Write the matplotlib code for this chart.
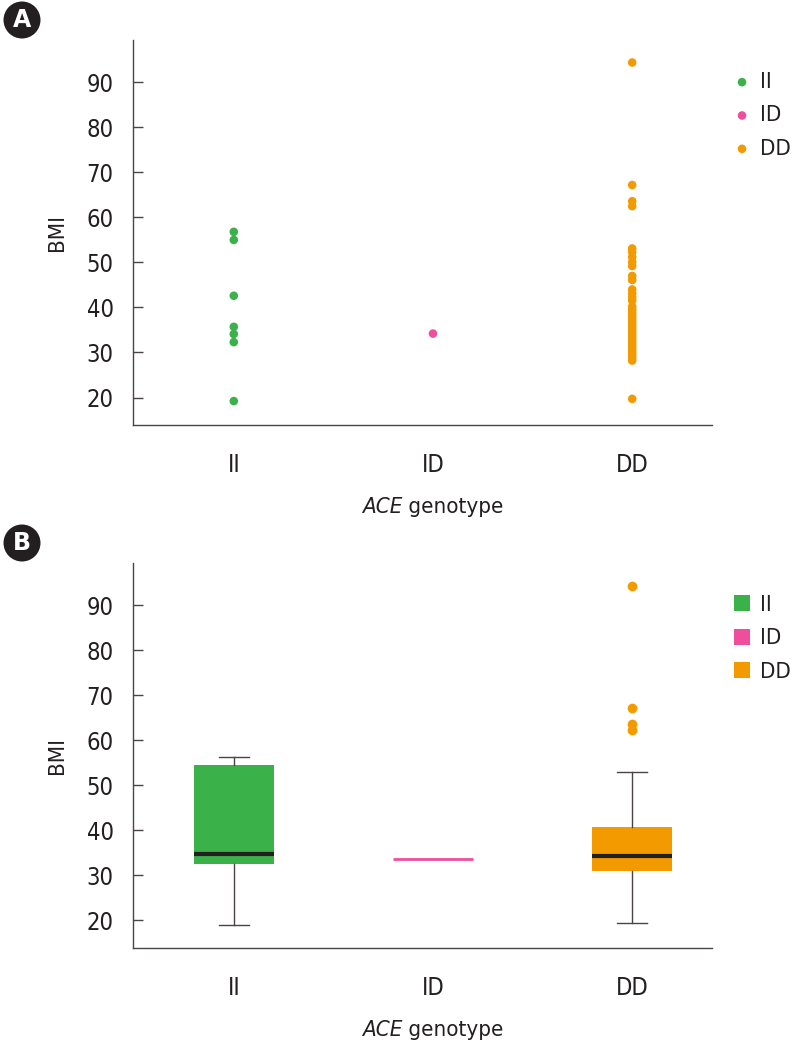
import matplotlib
matplotlib.use("Agg")
import matplotlib.pyplot as plt
from matplotlib.lines import Line2D
from matplotlib.patches import Ellipse

plt.rcParams['font.family'] = ['DejaVu Sans']
plt.rcParams['font.stretch'] = 'condensed'

# data
genotypes = ['II', 'ID', 'DD']
colors = ['#3BB14A', '#EE4E9C', '#F39A00']

bmi_ii = [56.8, 55.0, 42.6, 35.7, 34.1, 32.3, 19.2]
bmi_id = [34.2]
bmi_dd = [94.4, 67.2, 63.6, 62.5, 53.1, 52.3, 51.2, 50.1, 49.2, 47.0, 46.1,
          44.0, 43.1, 42.2, 41.5, 40.2, 39.6, 39.0, 38.4, 37.8, 37.2, 36.6,
          36.0, 35.4, 34.8, 34.2, 33.6, 33.0, 32.4, 31.8, 31.2, 30.6, 30.0,
          29.4, 28.8, 28.2, 19.7]

# box summaries
box_q1 = [32.6, 33.7, 31.1]
box_med = [34.8, 33.7, 34.3]
box_q3 = [54.6, 33.7, 40.8]
box_lo = [19.0, 33.7, 19.5]
box_hi = [56.4, 33.7, 53.0]
box_fliers = [[], [], [94.2, 67.1, 63.6, 62.3]]

yticks = [20, 30, 40, 50, 60, 70, 80, 90]
ylim = (13.9, 99.4)

txt = '#231F20'
spine = '#4A4444'

fig = plt.figure(figsize=(7.93, 10.47), dpi=100)
axA = fig.add_axes([0.1677, 0.5941, 0.730, 0.3677])
axB = fig.add_axes([0.1677, 0.0946, 0.730, 0.3677])


def style(ax):
    ax.set_xlim(0.494, 3.40)
    ax.set_ylim(*ylim)
    ax.set_yticks(yticks)
    ax.set_xticks([1, 2, 3])
    ax.set_xticklabels(genotypes)
    for s in ['top', 'right']:
        ax.spines[s].set_visible(False)
    for s in ['left', 'bottom']:
        ax.spines[s].set_color(spine)
        ax.spines[s].set_linewidth(1.0)
    ax.tick_params(axis='y', direction='in', length=7, width=1.0, color=spine,
                   labelsize=17, labelcolor=txt, pad=14)
    ax.tick_params(axis='x', length=0, labelsize=17, labelcolor=txt, pad=20)
    ax.set_ylabel('BMI', fontsize=16, color=txt, labelpad=14)
    t = ax.text(0.5 - 0.035, -0.228, 'ACE', transform=ax.transAxes,
                fontsize=16, style='italic', color=txt, ha='right',
                va='baseline')
    ax.annotate(' genotype', xy=(1, 0), xycoords=t, fontsize=16, color=txt,
                ha='left', va='bottom')


# panel A: strip of points
for i, vals in enumerate([bmi_ii, bmi_id, bmi_dd]):
    axA.scatter([i + 1] * len(vals), vals, s=38, color=colors[i],
                edgecolors='none', label=genotypes[i], zorder=3, clip_on=False)
style(axA)
axA.legend(loc='upper left', bbox_to_anchor=(1.006, 0.94), frameon=False,
           fontsize=16, handletextpad=0.0, labelspacing=0.6,
           borderaxespad=0, labelcolor=txt, handlelength=1.6)

# panel B: boxplot
stats = []
for i in range(3):
    stats.append(dict(q1=box_q1[i], med=box_med[i], q3=box_q3[i],
                      whislo=box_lo[i], whishi=box_hi[i],
                      fliers=box_fliers[i], label=genotypes[i]))
bp = axB.bxp(stats, positions=[1, 2, 3], widths=0.4, patch_artist=True,
             showcaps=True,
             boxprops=dict(linewidth=0),
             whiskerprops=dict(color=spine, linewidth=1.0),
             capprops=dict(color=spine, linewidth=1.0),
             medianprops=dict(color=txt, linewidth=3, solid_capstyle='butt'),
             flierprops=dict(marker='o', markersize=7, markeredgewidth=0,
                             markerfacecolor=colors[2]))
for i, b in enumerate(bp['boxes']):
    b.set_facecolor(colors[i])
    b.set_edgecolor(colors[i])
for c in bp['caps']:
    x = c.get_xdata()
    mid = (x[0] + x[1]) / 2
    c.set_xdata([mid - 0.075, mid + 0.075])
bp['medians'][1].set_color(colors[1])
bp['medians'][1].set_linewidth(2)
for w in bp['whiskers'][2:4]:
    w.set_visible(False)
for c in bp['caps'][2:4]:
    c.set_visible(False)
style(axB)
handles = [Line2D([], [], marker='s', linestyle='none', markersize=11,
                  markerfacecolor=c, markeredgewidth=0) for c in colors]
axB.legend(handles, genotypes, loc='upper left', bbox_to_anchor=(1.006, 0.94),
           frameon=False, fontsize=16, handletextpad=0.0, labelspacing=0.6,
           borderaxespad=0, labelcolor=txt, handlelength=1.6)

# panel badges
for letter, yc in [('A', 1 - 20 / 1047), ('B', 1 - 543 / 1047)]:
    fig.patches.append(Ellipse((22 / 793, yc), 37 / 793, 37 / 1047,
                               transform=fig.transFigure,
                               facecolor='#231F20', edgecolor='none'))
    fig.text(22 / 793, yc, letter, color='white', fontsize=17,
             fontweight='bold', fontstretch='normal', ha='center',
             va='center')

fig.savefig('out.png', dpi=100)
